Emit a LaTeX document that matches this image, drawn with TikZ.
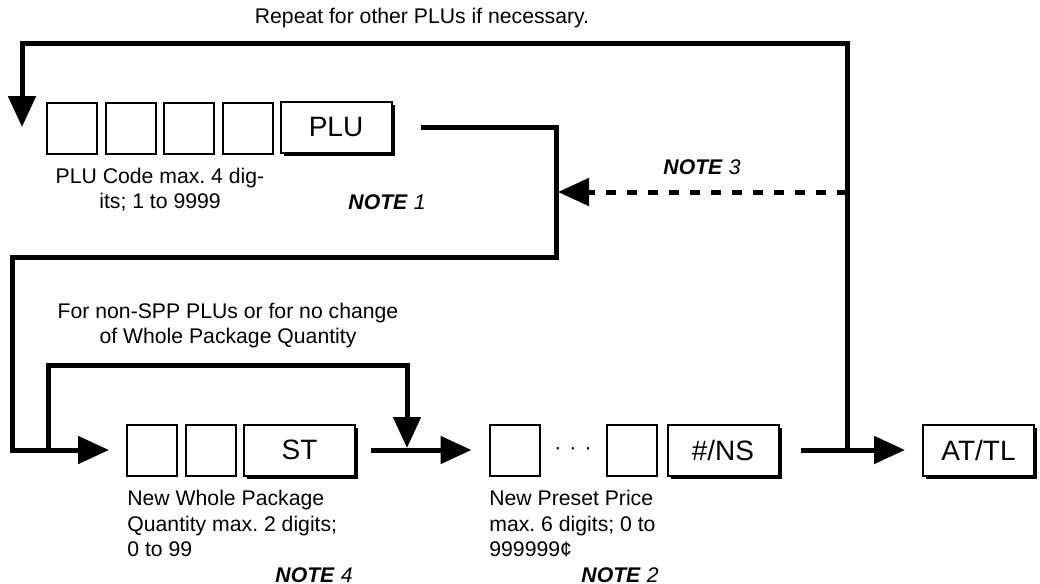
\documentclass[tikz,border=0pt]{standalone}
\usepackage{fontspec}
\setmainfont{Liberation Sans}
\usetikzlibrary{arrows.meta, shadows}
\frenchspacing

\tikzset{
  digit/.style={draw, line width=1pt, minimum width=25pt, minimum height=25.5pt, inner sep=0pt},
  keycap/.style={draw, fill=white, line width=1pt, minimum width=55.5pt, minimum height=25.5pt,
    inner sep=0pt, font=\fontsize{14}{16}\selectfont,
    drop shadow={shadow xshift=1.5pt, shadow yshift=-1.5pt, fill=black, opacity=1}},
  flowline/.style={line width=2.5pt},
  flowtip/.style={-{Triangle[length=15.5pt, width=13.5pt]}},
  lbl/.style={font=\fontsize{10.6}{12.7}\selectfont, inner sep=0pt},
}
\newcommand{\notemark}[1]{\textbf{\textit{NOTE}}~\textit{#1}}

\begin{document}
\begin{tikzpicture}[x=0.5pt, y=-0.5pt]
\useasboundingbox (0,0) rectangle (1040,584);

% PLU code entry (top row)
\foreach \i in {1,...,4}
  \node[digit] (p\i) at ({72+58.5*(\i-1)},128.5) {};
\node[keycap] (plu) at (336,127.5) {PLU};

% Quantity and price entry (bottom row)
\node[digit] (s1) at (152,450) {};
\node[digit] (s2) at (211,450) {};
\node[keycap] (st) at (299.5,450) {ST};
\node[digit] (q1) at (514.5,450) {};
\node[lbl] (dots) at (573,451) {·\hspace{4pt}·\hspace{4pt}·};
\node[digit] (q2) at (632,450) {};
\node[keycap] (ns) at (723,450) {\#/NS};
\node[keycap] (attl) at (978.5,450) {AT/TL};

% Junctions on the bottom line
\coordinate (fork) at (847,450);
\coordinate (skip) at (48,450);

% Connectors
\draw[flowline, flowtip] ([xshift=14pt]plu.east) -| (556,257) -| (12,450) -- ([xshift=-8.5pt]s1.west);
\draw[flowline, flowtip] (skip) |- (407,365) -- (407,448);
\draw[flowline, flowtip] ([xshift=7.5pt]st.east) -- ([xshift=-8.5pt]q1.west);
\draw[flowline, flowtip] ([xshift=10.5pt]ns.east) -- ([xshift=-8.5pt]attl.west);
\draw[flowline, flowtip] (fork) |- (22,43) -- (22,127);
\draw[flowline, flowtip, dash pattern=on 5pt off 5.5pt] (847,192) -- (558,192);

% Texts
\node[lbl] (repeat) at (422,18) {Repeat for other PLUs if necessary.};
\node[lbl, align=center] (plucode) at (160,189.5) {PLU Code max. 4 dig-\\its; 1 to 9999};
\node[lbl] (n1) at (387,202) {\notemark{1}};
\node[lbl] (n3) at (702,167) {\notemark{3}};
\node[lbl, align=center] (skiptext) at (228,325.5) {For non-SPP PLUs or for no change\\of Whole Package Quantity};
\node[lbl, align=left, anchor=west] (sttext) at (127,523.5) {New Whole Package\\Quantity max. 2 digits;\\0 to 99};
\node[lbl, align=left, anchor=west] (nstext) at (489,523.5) {New Preset Price\\max. 6 digits; 0 to\\999999¢};
\node[lbl] (n4) at (314,575) {\notemark{4}};
\node[lbl] (n2) at (620,575) {\notemark{2}};

\end{tikzpicture}
\end{document}
